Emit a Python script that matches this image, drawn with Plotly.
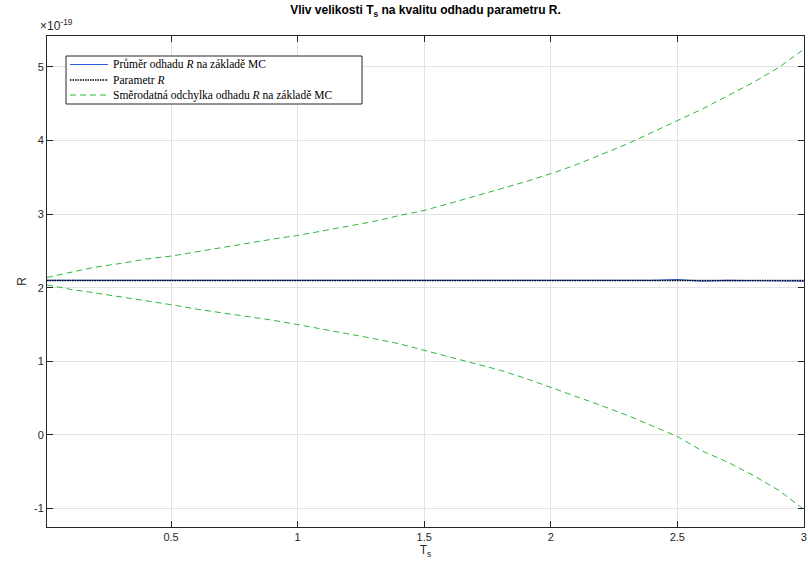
import plotly.graph_objects as go

# Data (R values in units of 1e-19)
ts = [0.01, 0.1, 0.2, 0.3, 0.4, 0.5, 0.6, 0.7, 0.8, 0.9, 1.0,
      1.1, 1.2, 1.3, 1.4, 1.5, 1.6, 1.7, 1.8, 1.9, 2.0,
      2.1, 2.2, 2.3, 2.4, 2.5, 2.6, 2.7, 2.8, 2.9, 3.0]
r_mean = [2.10, 2.10, 2.10, 2.10, 2.10, 2.10, 2.10, 2.10, 2.10, 2.10, 2.10,
          2.10, 2.10, 2.10, 2.10, 2.10, 2.10, 2.10, 2.10, 2.10, 2.095,
          2.10, 2.10, 2.095, 2.10, 2.11, 2.09, 2.10, 2.095, 2.10, 2.09]
r_param = [2.1] * len(ts)
upper = [2.14, 2.21, 2.28, 2.33, 2.39, 2.43, 2.49, 2.55, 2.61, 2.66, 2.71,
         2.77, 2.84, 2.90, 2.98, 3.05, 3.145, 3.24, 3.335, 3.44, 3.55,
         3.67, 3.81, 3.95, 4.11, 4.27, 4.43, 4.61, 4.79, 4.99, 5.24]
lower = [2.04, 1.98, 1.93, 1.88, 1.83, 1.77, 1.71, 1.66, 1.62, 1.56, 1.50,
         1.44, 1.38, 1.31, 1.24, 1.15, 1.07, 0.98, 0.88, 0.77, 0.65,
         0.53, 0.40, 0.27, 0.12, -0.02, -0.22, -0.37, -0.55, -0.75, -1.01]

x_ticks = [0.5, 1, 1.5, 2, 2.5, 3]
y_ticks = [-1, 0, 1, 2, 3, 4, 5]
legend_labels = ["Průměr odhadu <i>R</i> na základě MC",
                 "Parametr <i>R</i>",
                 "Směrodatná odchylka odhadu <i>R</i> na základě MC"]

blue = "#2f5fe0"
green = "#2db83d"
axc = "#262626"
DASH = "6px,4px"
DOT = "1.5px,1px"

# page body margin is removed in the page (post_script), so figure == window
W, H = 808, 571
L, R, T, B = 47, 4, 36, 44
PW, PH = W - L - R, H - T - B


def px(xp):
    return (xp - L) / PW


def py(yp):
    return (H - B - yp) / PH


fig = go.Figure()
fig.add_trace(go.Scatter(x=ts, y=upper, mode="lines",
                         line=dict(color=green, width=1, dash=DASH), showlegend=False))
fig.add_trace(go.Scatter(x=ts, y=lower, mode="lines",
                         line=dict(color=green, width=1, dash=DASH), showlegend=False))
fig.add_trace(go.Scatter(x=ts, y=r_mean, mode="lines",
                         line=dict(color=blue, width=1.2), showlegend=False))
fig.add_trace(go.Scatter(x=ts, y=r_param, mode="lines",
                         line=dict(color="black", width=1.5, dash=DOT), showlegend=False))

# manual legend box (MATLAB style)
shapes = [dict(type="rect", xref="paper", yref="paper",
               x0=px(66), x1=px(362), y0=py(104), y1=py(56),
               line=dict(color=axc, width=1), fillcolor="white", layer="above")]
styles = [dict(color=blue, width=1.2), dict(color="black", width=1.5, dash=DOT),
          dict(color=green, width=1, dash=DASH)]
annotations = []
rows = [64.5, 80, 95]
for lab, st, yr in zip(legend_labels, styles, rows):
    shapes.append(dict(type="line", xref="paper", yref="paper",
                       x0=px(70), x1=px(108), y0=py(yr), y1=py(yr), line=st, layer="above"))
    annotations.append(dict(text=lab, x=px(111), y=py(yr), xref="paper", yref="paper",
                            xanchor="left", yanchor="middle", showarrow=False,
                            font=dict(family="Liberation Serif, DejaVu Serif, serif",
                                      size=11.5, color="black")))
annotations.append(dict(text="×10<sup>-19</sup>", x=0, y=1, xref="paper", yref="paper",
                        xanchor="left", yanchor="bottom", xshift=-9, yshift=1,
                        showarrow=False, font=dict(size=12, color=axc)))

fig.update_layout(
    width=W, height=H,
    margin=dict(l=L, r=R, t=T, b=B, autoexpand=False),
    paper_bgcolor="white", plot_bgcolor="white",
    font=dict(family="Liberation Sans, Arial, sans-serif", size=11, color=axc),
    title=dict(text="<b>Vliv velikosti T<sub>s</sub> na kvalitu odhadu parametru R.</b>",
               x=0.5, xref="paper", xanchor="center", y=0.99, yanchor="top",
               font=dict(size=12, color="black")),
    showlegend=False,
    xaxis=dict(range=[0.01, 3.0005], tickvals=x_ticks, ticktext=[str(v) for v in x_ticks],
               showgrid=True, gridcolor="#e3e3e3", zeroline=False, automargin=False,
               showline=True, linecolor=axc, linewidth=1, mirror="ticks",
               ticks="inside", ticklen=6, tickcolor=axc, ticklabeloverflow="allow",
               title=dict(text="T<sub>s</sub>", standoff=2, font=dict(size=12))),
    yaxis=dict(range=[-1.25, 5.42], tickvals=y_ticks, ticktext=[str(v) for v in y_ticks],
               showgrid=True, gridcolor="#e3e3e3", zeroline=False, automargin=False,
               showline=True, linecolor=axc, linewidth=1, mirror="ticks",
               ticks="inside", ticklen=6, tickcolor=axc,
               title=dict(text="R", standoff=4, font=dict(size=12))),
    shapes=shapes,
    annotations=annotations,
)

fig.write_html(
    "out.html",
    config={"displayModeBar": False},
    post_script="document.body.style.margin='0';"
                "document.documentElement.style.overflow='hidden';"
                "document.body.style.overflow='hidden';",
)
